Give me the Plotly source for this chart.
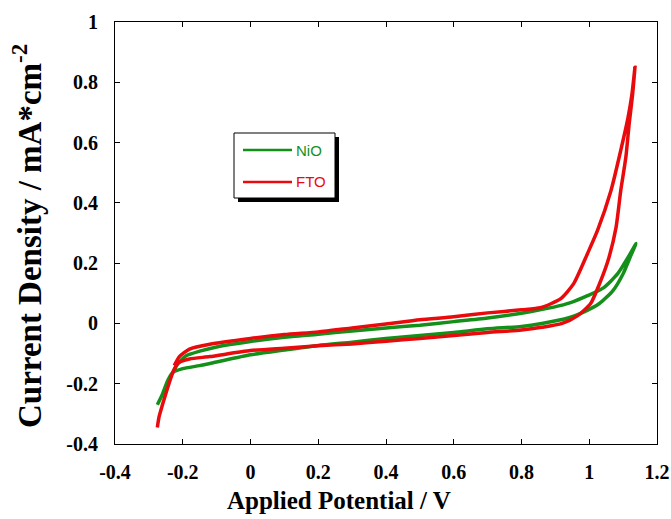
import plotly.graph_objects as go

# ---- data ----
# NiO: lower branch (left tip -> right tip), then upper branch back to the left
nio_v = [-0.275, -0.26, -0.245, -0.23, -0.20, -0.15, -0.10, 0.0, 0.10, 0.20, 0.30, 0.40,
         0.50, 0.60, 0.70, 0.80, 0.86, 0.94, 0.98, 1.03, 1.07, 1.10, 1.12, 1.138,
         1.114, 1.084, 1.043, 0.995, 0.945, 0.895, 0.80, 0.70, 0.60, 0.50, 0.40, 0.30,
         0.20, 0.10, 0.0, -0.10, -0.15, -0.19, -0.215, -0.23]
nio_j = [-0.27, -0.235, -0.191, -0.163, -0.150, -0.140, -0.128, -0.104, -0.088, -0.073, -0.062, -0.050,
         -0.040, -0.030, -0.018, -0.010, 0.0, 0.019, 0.036, 0.066, 0.109, 0.165, 0.218, 0.265,
         0.218, 0.165, 0.119, 0.092, 0.069, 0.054, 0.034, 0.018, 0.006, -0.006, -0.015, -0.025,
         -0.036, -0.046, -0.060, -0.078, -0.092, -0.107, -0.135, -0.163]

# FTO
fto_v = [-0.275, -0.27, -0.26, -0.245, -0.23, -0.215, -0.18, -0.12, 0.0, 0.10, 0.20, 0.30,
         0.40, 0.50, 0.60, 0.70, 0.80, 0.86, 0.92, 0.966, 1.004, 1.034, 1.058, 1.079,
         1.093, 1.108, 1.118, 1.128, 1.135,
         1.126, 1.114, 1.093, 1.064, 1.025, 0.995, 0.954, 0.916, 0.856, 0.80, 0.70, 0.60,
         0.50, 0.40, 0.30, 0.20, 0.10, 0.0, -0.12, -0.18, -0.21, -0.225]
fto_j = [-0.345, -0.31, -0.27, -0.215, -0.165, -0.132, -0.118, -0.110, -0.090, -0.082, -0.074, -0.068,
         -0.059, -0.050, -0.040, -0.030, -0.022, -0.013, 0.0, 0.026, 0.066, 0.142, 0.218, 0.318,
         0.441, 0.551, 0.664, 0.76, 0.85,
         0.76, 0.68, 0.574, 0.44, 0.31, 0.232, 0.132, 0.082, 0.052, 0.045, 0.035, 0.022,
         0.012, -0.002, -0.015, -0.028, -0.037, -0.050, -0.069, -0.085, -0.11, -0.14]

series_names = ["NiO", "FTO"]

x_ticks = [-0.4, -0.2, 0, 0.2, 0.4, 0.6, 0.8, 1, 1.2]
x_tick_text = ["-0.4", "-0.2", "0", "0.2", "0.4", "0.6", "0.8", "1", "1.2"]
y_ticks = [-0.4, -0.2, 0, 0.2, 0.4, 0.6, 0.8, 1]
y_tick_text = ["-0.4", "-0.2", "0", "0.2", "0.4", "0.6", "0.8", "1"]

GREEN = "#14901a"
RED = "#e80a0c"
COLORS = [GREEN, RED]

W, H = 671, 519
L, R, T, B = 115, 14, 22, 75
PW, PH = W - L - R, H - T - B


def px(xp):
    return (xp - L) / PW


def py(yp):
    return 1 - (yp - T) / PH


fig = go.Figure()
for name, v, j, c in zip(series_names, [nio_v, fto_v], [nio_j, fto_j], COLORS):
    fig.add_trace(go.Scatter(x=v, y=j, mode="lines", name=name,
                             line=dict(color=c, width=3.5, shape="spline", smoothing=0.6)))

serif = "Liberation Serif"
serif_bold = dict(family=serif, color="black", weight="bold")

# legend box drawn by hand (with drop shadow, long line samples)
shapes = [
    dict(type="rect", xref="paper", yref="paper", x0=px(238), x1=px(339), y0=py(202), y1=py(137),
         fillcolor="black", line=dict(width=0), layer="above"),
    dict(type="rect", xref="paper", yref="paper", x0=px(234), x1=px(335), y0=py(198), y1=py(133),
         fillcolor="white", line=dict(color="black", width=1), layer="above"),
]
annotations = []
for k, (name, c) in enumerate(zip(series_names, COLORS)):
    yy = 150 + 32 * k
    shapes.append(dict(type="line", xref="paper", yref="paper", x0=px(243), x1=px(292),
                       y0=py(yy), y1=py(yy), line=dict(color=c, width=2.5), layer="above"))
    annotations.append(dict(xref="paper", yref="paper", x=px(294), y=py(yy), xanchor="left",
                            yanchor="middle", text=name, showarrow=False,
                            font=dict(family="Liberation Sans", size=15, color=c)))

annotations.append(dict(xref="paper", yref="paper", x=px(339), y=py(500), xanchor="center",
                        yanchor="middle", text="Applied Potential / V", showarrow=False,
                        font=dict(size=25, **serif_bold)))
annotations.append(dict(xref="paper", yref="paper", x=px(27), y=py(236), xanchor="center",
                        yanchor="middle", textangle=-90, showarrow=False,
                        text="Current Density / mA*cm<sup>-2</sup>",
                        font=dict(size=33, **serif_bold)))

fig.update_layout(
    width=W, height=H,
    margin=dict(l=L, r=R, t=T, b=B),
    paper_bgcolor="white", plot_bgcolor="white",
    font=dict(family=serif, color="black"),
    showlegend=False,
    shapes=shapes, annotations=annotations,
    xaxis=dict(range=[-0.4, 1.2], tickvals=x_ticks, ticktext=["<b>%s</b>" % t for t in x_tick_text],
               automargin=False,
               ticks="inside", ticklen=5, tickcolor="black", showline=True, linecolor="black",
               linewidth=1, mirror="ticks", showgrid=False, zeroline=False,
               tickfont=dict(family=serif, size=20, color="black"), ticklabelstandoff=10),
    yaxis=dict(range=[-0.4, 1.0], tickvals=y_ticks, ticktext=["<b>%s</b>" % t for t in y_tick_text],
               automargin=False,
               ticks="inside", ticklen=5, tickcolor="black", showline=True, linecolor="black",
               linewidth=1, mirror="ticks", showgrid=False, zeroline=False,
               tickfont=dict(family=serif, size=20, color="black"), ticklabelstandoff=12),
)

fig.write_html("out.html")
